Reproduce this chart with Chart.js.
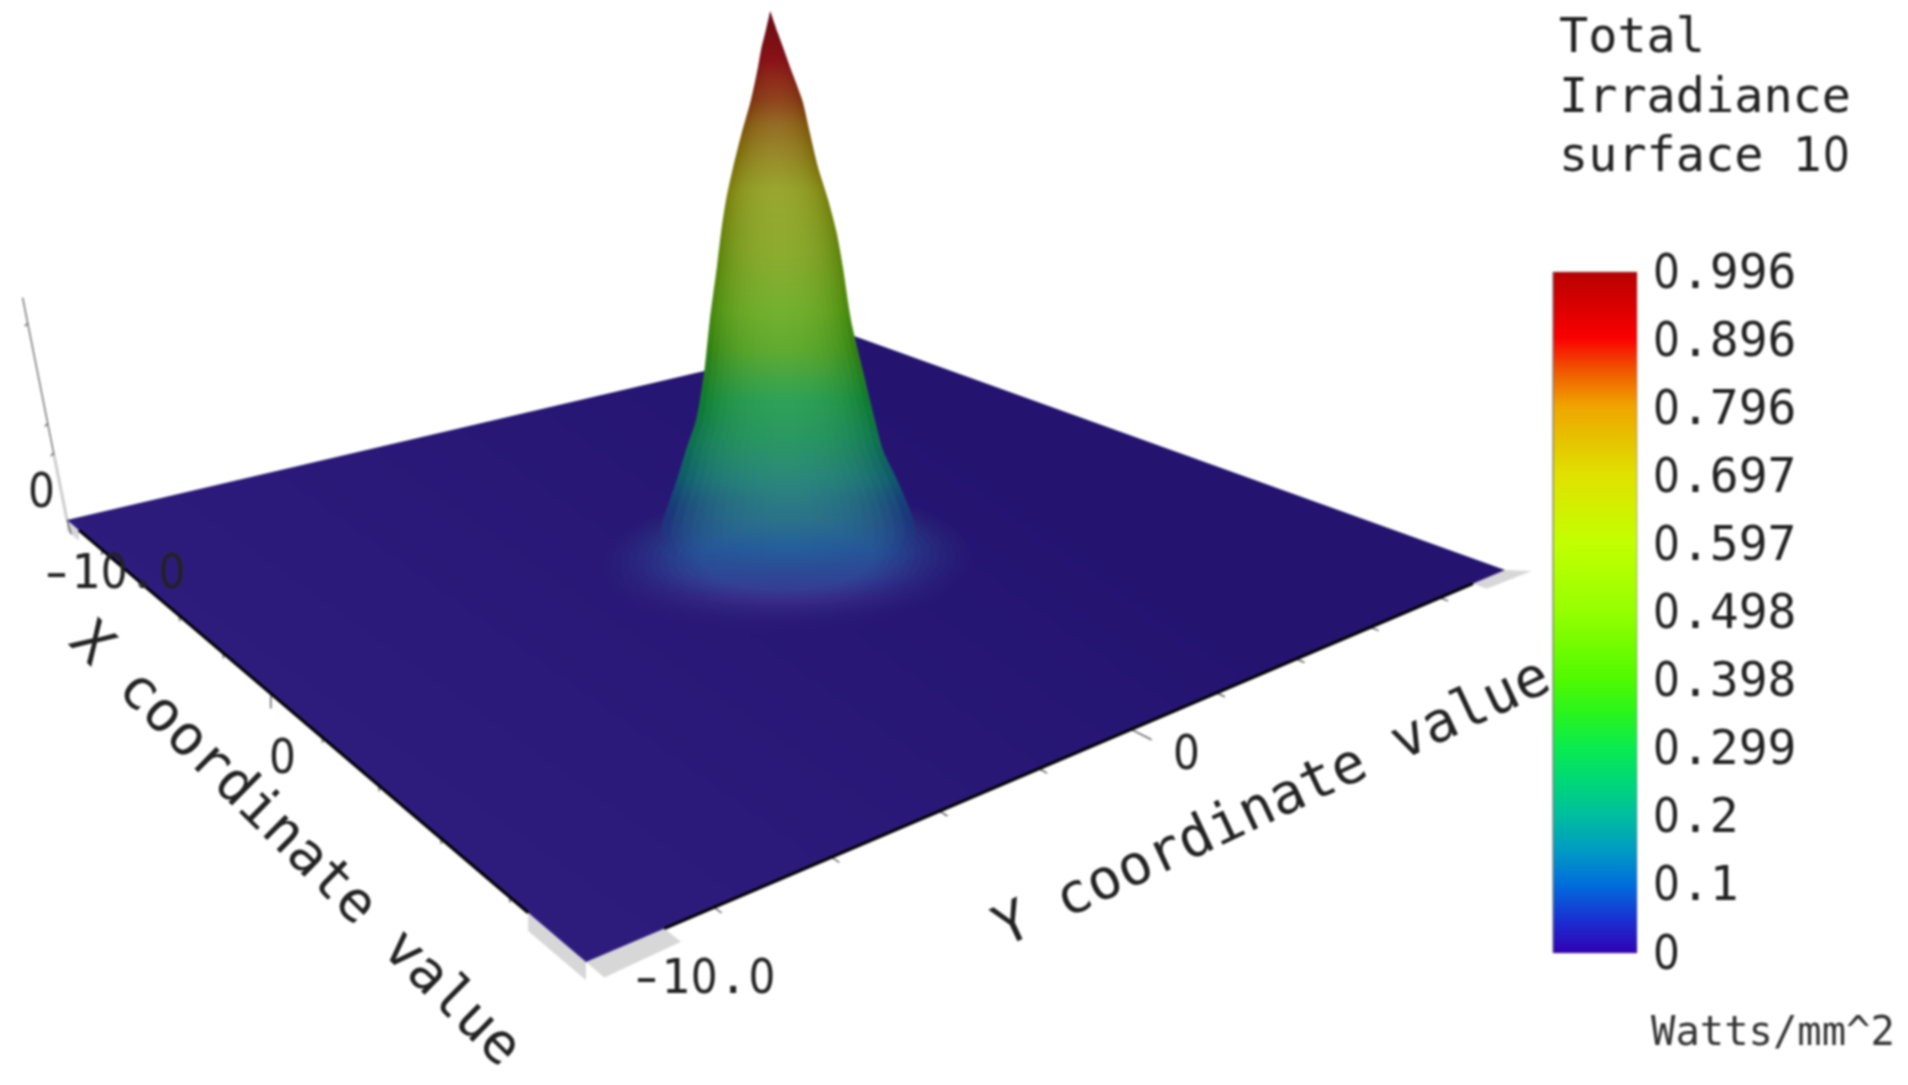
<!DOCTYPE html>
<html>
<head>
<meta charset="utf-8">
<title>Total Irradiance surface 10</title>
<style>
    html, body { margin: 0; padding: 0; background: #fff; }
    canvas { display: block; filter: blur(0.8px); }
</style>
<script src="https://cdn.jsdelivr.net/npm/chart.js@4/dist/chart.umd.min.js"></script>
</head>
<body>
<canvas id="surface" width="1908" height="1085"></canvas>
<script>
// surface outline: height and left/right edge (mm across the view)
const zLevels = [0.996, 0.955, 0.924, 0.892, 0.830, 0.769, 0.705, 0.644, 0.582, 0.519, 0.420, 0.323, 0.233, 0.177, 0.121, 0.075, 0.050, 0.021, -0.02, -0.07];
const edgeLeft = [-0.35, -0.45, -0.53, -0.59, -0.73, -0.91, -1.08, -1.22, -1.32, -1.40, -1.54, -1.65, -1.81, -2.01, -2.19, -2.36, -2.45, -2.50, -2.30, -1.50];
const edgeRight = [-0.35, -0.20, -0.08, 0.04, 0.28, 0.43, 0.59, 0.79, 0.96, 1.08, 1.24, 1.48, 1.71, 1.87, 2.15, 2.36, 2.45, 2.50, 2.30, 1.50];

// skirt of the peak where it runs out onto the floor (radius in mm, with its opacity)
const skirtRadius = [3.5, 3.35, 3.2, 3.05, 2.9, 2.75, 2.6, 2.45, 2.3, 2.15, 2.0, 1.85, 1.7];
const skirtAlpha = [0.03, 0.04, 0.05, 0.06, 0.07, 0.08, 0.1, 0.12, 0.14, 0.16, 0.18, 0.2, 0.22];
const skirtCentre = [0.75, 0];

// colour of the lit middle and the darker rim of the surface, by height
const shadeZ = [0.99, 0.905, 0.868, 0.83, 0.784, 0.737, 0.662, 0.55, 0.438, 0.364, 0.27, 0.196, 0.121, 0.047, -0.009, -0.065, -0.103, -0.149, -0.175];
const shadeMiddle = ['105,15,20', '140,20,25', '145,45,30', '145,70,30', '150,110,40', '155,135,45', '155,170,50', '145,175,50', '120,180,50', '100,175,50', '50,165,90', '45,155,100', '45,140,125', '45,120,140', '40,100,160', '50,80,158', '65,60,150', '55,40,135', '44,28,122'];
const shadeRim = ['100,10,20', '125,15,20', '125,35,18', '125,50,15', '125,85,12', '125,105,10', '125,130,15', '100,135,15', '75,140,15', '50,130,20', '15,125,50', '15,115,80', '15,90,110', '20,70,130', '25,60,135', '30,45,130', '36,36,126', '44,28,122', '44,28,122'];
const rimFade = [1, 1, 1, 1, 1, 1, 1, 1, 1, 1, 1, 1, 1, 0.55, 0.15, 0, 0, 0, 0];
const middleFade = [1, 1, 1, 1, 1, 1, 1, 1, 1, 1, 1, 1, 1, 0.85, 0.45, 0, 0, 0, 0];
const insetSteps = [0.92, 0.84, 0.76, 0.68, 0.6, 0.52, 0.44, 0.36, 0.28, 0.2, 0.12];

// colour bar
const barStops = [0, 0.05, 0.1, 0.15, 0.2, 0.25, 0.3, 0.35, 0.4, 0.5, 0.6, 0.7, 0.75, 0.8, 0.85, 0.9, 0.95, 0.996];
const barColours = ['50,0,180', '25,50,210', '0,110,220', '0,155,195', '0,190,160', '0,215,120', '10,235,80', '40,245,30', '80,250,0', '150,255,0', '195,255,0', '225,225,0', '230,195,0', '240,165,0', '240,90,0', '250,0,0', '215,0,0', '185,0,0'];
const barTicks = [0.996, 0.896, 0.796, 0.697, 0.597, 0.498, 0.398, 0.299, 0.2, 0.1, 0];
const barTickText = ['0.996', '0.896', '0.796', '0.697', '0.597', '0.498', '0.398', '0.299', '0.2', '0.1', '0'];

// floor axes
const floorTicks = [-8, -6, -4, -2, 0, 2, 4, 6, 8];
const zAxisTicks = [0.125, 0.18, 0.367];
const titleLines = ['Total', 'Irradiance', 'surface 10'];

// view: floor corners as they land on the page
const cornerLeft = [67, 520], cornerBottom = [586, 962], cornerRight = [1505, 570], cornerBack = [854, 336];
const viewUnit = 50.8, zUnit = 536, peakView = [788, 545];

const dx1 = cornerBottom[0] - cornerRight[0], dy1 = cornerBottom[1] - cornerRight[1];
const dx2 = cornerBack[0] - cornerRight[0], dy2 = cornerBack[1] - cornerRight[1];
const sx = cornerLeft[0] - cornerBottom[0] + cornerRight[0] - cornerBack[0];
const sy = cornerLeft[1] - cornerBottom[1] + cornerRight[1] - cornerBack[1];
const det = dx1 * dy2 - dx2 * dy1;
const pg = (sx * dy2 - dx2 * sy) / det;
const ph = (dx1 * sy - sx * dy1) / det;

function project(X, Y, z = 0) {
    const u = (X + 10) / 20, v = (Y + 10) / 20;
    const w = 1 + pg * u + ph * v;
    const px = (cornerBottom[0] - cornerLeft[0] + pg * cornerBottom[0]) * u + (cornerBack[0] - cornerLeft[0] + ph * cornerBack[0]) * v + cornerLeft[0];
    const py = (cornerBottom[1] - cornerLeft[1] + pg * cornerBottom[1]) * u + (cornerBack[1] - cornerLeft[1] + ph * cornerBack[1]) * v + cornerLeft[1];
    return { x: px / w, y: py / w - z * zUnit };
}

const barY = v => 953 - v / 0.996 * 681;
const surfaceY = z => peakView[1] - z * zUnit;

function gradient(ctx, stops, colours, alphas, toY) {
    // scales have no pixels until the first layout is done
    if (!ctx.chart.chartArea) return 'transparent';
    const scale = ctx.chart.scales.y;
    const first = toY(stops[0]), last = toY(stops[stops.length - 1]);
    const g = ctx.chart.ctx.createLinearGradient(0, scale.getPixelForValue(first), 0, scale.getPixelForValue(last));
    stops.forEach((s, i) => {
        const a = Array.isArray(alphas) ? alphas[i] : alphas;
        g.addColorStop((toY(s) - first) / (last - first), `rgba(${colours[i]},${a})`);
    });
    return g;
}

function shape(points, fillColour, tension = 0) {
    return { data: points, fill: 'shape', backgroundColor: fillColour, borderWidth: 0, pointRadius: 0, showLine: true, tension };
}

function stroke(points, colour, width) {
    return { data: points, fill: false, borderColor: colour, borderWidth: width, pointRadius: 0, showLine: true, tension: 0 };
}

function outline(inset) {
    const left = zLevels.map((z, i) => {
        const mid = (edgeLeft[i] + edgeRight[i]) / 2;
        return { x: peakView[0] + (mid + (edgeLeft[i] - mid) * inset) * viewUnit, y: surfaceY(z) };
    });
    const right = zLevels.map((z, i) => {
        const mid = (edgeLeft[i] + edgeRight[i]) / 2;
        return { x: peakView[0] + (mid + (edgeRight[i] - mid) * inset) * viewUnit, y: surfaceY(z) };
    });
    return [...left.reverse(), ...right];
}

function skirt(radius) {
    const pts = [];
    for (let a = 0; a <= 360; a += 10) {
        const t = a * Math.PI / 180;
        pts.push(project(skirtCentre[0] + radius * Math.cos(t), skirtCentre[1] + radius * Math.sin(t)));
    }
    return pts;
}

// paint order: back to front
const layers = [];

// grey wall pieces peeking out under the floor
const wallGrey = 'rgb(215,215,215)';
layers.push(shape([project(8.5, -10), project(10, -10), project(10, -10, -0.034), project(8.5, -10, -0.034)], wallGrey));
layers.push(shape([project(10, -10), project(10, -8.8), project(10.4, -8.8), project(10.45, -10)], wallGrey));
layers.push(shape([project(10, 9), project(10, 10), project(10.35, 10.35), project(10.3, 9)], wallGrey));
layers.push(shape([project(-10, -10), project(-9.3, -10), project(-9.3, -10, -0.02), project(-10, -10, -0.02)], wallGrey));

// axis ticks
floorTicks.forEach(t => {
    const drop = t === 0 ? -0.028 : -0.01;
    layers.push(stroke([project(t, -10), project(t, -10, drop)], '#666', 1.5));
    const out = t === 0 ? 10.45 : 10.18;
    layers.push(stroke([project(10, t), project(out, t)], '#666', 1.5));
});

// vertical axis leaning away from the left corner
const zAxisPoint = z => ({ x: cornerLeft[0] - z * 107, y: cornerLeft[1] - z * zUnit });
layers.push(stroke([zAxisPoint(0), zAxisPoint(0.12)], 'rgb(205,205,205)', 3));
layers.push(stroke([zAxisPoint(0.12), zAxisPoint(0.415)], 'rgb(120,120,120)', 1.5));
zAxisTicks.forEach(z => {
    const p = zAxisPoint(z);
    layers.push(stroke([p, { x: p.x - 3, y: p.y + 3 }], 'rgb(110,110,110)', 1.5));
});
layers.push(stroke([project(-10, -10), project(-9.75, -10, -0.02)], 'rgb(110,110,110)', 1.5));

// floor
layers.push(shape([project(-10, -10), project(10, -10), project(10, 10), project(-10, 10), project(-10, -10)], ctx => {
    const g = ctx.chart.ctx.createLinearGradient(850, 340, 450, 900);
    g.addColorStop(0, 'rgb(36,20,112)');
    g.addColorStop(1, 'rgb(47,29,126)');
    return g;
}));

// black edges sit on the rim of the floor
layers.push(stroke([project(-9.3, -10), project(8.5, -10)], '#000', 3));
layers.push(stroke([project(10, -8.8), project(10, 9)], '#000', 3));

// skirt, outermost first
skirtRadius.forEach((r, i) => {
    layers.push(shape(skirt(r), ctx => gradient(ctx, shadeZ, shadeMiddle, skirtAlpha[i], surfaceY)));
});

// body of the peak: rim colour, then the lit middle built up in steps
layers.push(shape(outline(1), ctx => gradient(ctx, shadeZ, shadeRim, rimFade, surfaceY), 0.25));
insetSteps.forEach(f => {
    layers.push(shape(outline(f), ctx => gradient(ctx, shadeZ, shadeMiddle, middleFade.map(a => a * 0.2), surfaceY), 0.25));
});

// colour bar
layers.push({
    data: [{ x: 1553, y: barY(0) }, { x: 1637, y: barY(0) }, { x: 1637, y: barY(0.996) }, { x: 1553, y: barY(0.996) }, { x: 1553, y: barY(0) }],
    fill: 'shape', borderColor: 'rgba(120,120,120,0.55)', borderWidth: 1, pointRadius: 0, showLine: true, tension: 0,
    backgroundColor: ctx => gradient(ctx, barStops, barColours, 1, barY)
});

// the picture's mono font has a plain zero and a long dash, so those two get adjusted
function cellText(ctx, text, x, y, size, advance) {
    ctx.textAlign = 'center';
    [...text].forEach((ch, i) => {
        ctx.save();
        ctx.translate(x + (i + 0.5) * advance, y);
        ctx.font = `${size}px "DejaVu Sans Mono"`;
        if (ch === '0') {
            ctx.scale(0.88, 1);
            ctx.font = `${size}px "DejaVu Sans"`;
        } else if (ch === '-') {
            ctx.scale(1.4, 1);
        }
        ctx.fillText(ch, 0, 0);
        ctx.restore();
    });
}

const textPlugin = {
    id: 'plotText',
    beforeDatasetsDraw(chart) {
        // the last letter of this label runs under the colour bar
        const { ctx, scales } = chart;
        ctx.save();
        ctx.fillStyle = '#222';
        ctx.font = '56px "DejaVu Sans Mono"';
        ctx.textAlign = 'center';
        ctx.textBaseline = 'middle';
        ctx.translate(scales.x.getPixelForValue(1273), scales.y.getPixelForValue(805));
        ctx.rotate(-25.2 * Math.PI / 180);
        ctx.fillText('Y coordinate value', 0, 0);
        ctx.restore();
    },
    afterDraw(chart) {
        const { ctx, scales } = chart;
        const px = v => scales.x.getPixelForValue(v);
        const py = v => scales.y.getPixelForValue(v);
        ctx.save();
        ctx.fillStyle = '#222';
        ctx.textBaseline = 'alphabetic';

        titleLines.forEach((line, i) => cellText(ctx, line, 1559, 52 + i * 59.5, 48.5, 29.2));
        barTicks.forEach((v, i) => cellText(ctx, barTickText[i], 1652, py(barY(v)) + 15.5, 48, 28.9));
        cellText(ctx, '-10.0', 42, 588, 48, 28.9);
        cellText(ctx, '-10.0', 632, 993, 48, 28.9);
        cellText(ctx, '0', 27, 507, 48, 28.9);
        cellText(ctx, '0', 268, 773, 48, 28.9);
        cellText(ctx, '0', 1172, 769, 48, 28.9);

        ctx.fillStyle = '#333';
        ctx.textAlign = 'left';
        ctx.font = '40.5px "DejaVu Sans Mono"';
        ctx.fillText('Watts/mm^2', 1651, 1045);

        ctx.font = '56px "DejaVu Sans Mono"';
        ctx.fillStyle = '#222';
        ctx.textAlign = 'center';
        ctx.textBaseline = 'middle';
        ctx.translate(px(294), py(846));
        ctx.rotate(44.5 * Math.PI / 180);
        ctx.fillText('X coordinate value', 0, 0);
        ctx.restore();
    }
};

new Chart('surface', {
    type: 'scatter',
    data: { datasets: layers.slice().reverse() },
    options: {
        responsive: false,
        animation: false,
        layout: { padding: 0 },
        plugins: { legend: { display: false }, tooltip: { enabled: false } },
        scales: {
            x: { type: 'linear', display: false, min: 0, max: 1908 },
            y: { type: 'linear', display: false, min: 0, max: 1085, reverse: true }
        }
    },
    plugins: [textPlugin]
});
</script>
</body>
</html>
